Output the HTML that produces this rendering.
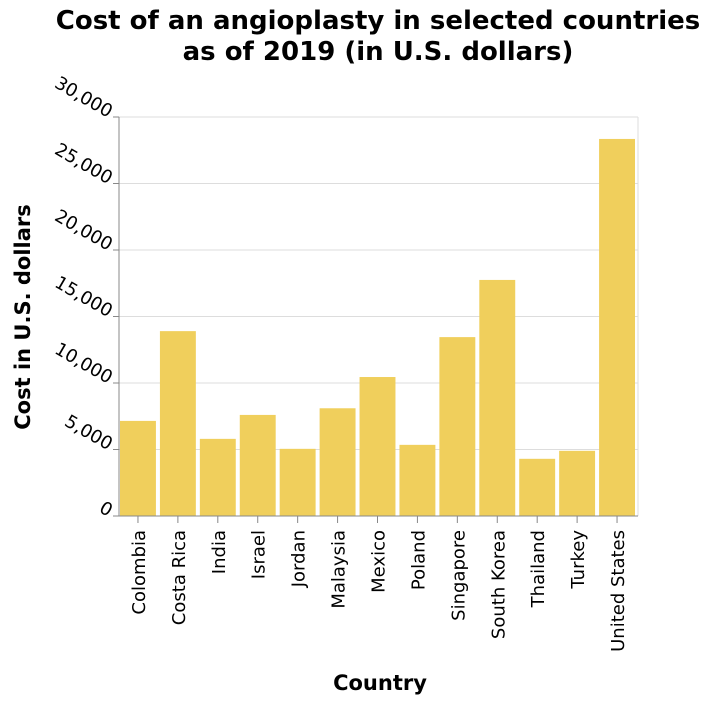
<!DOCTYPE html>
<html><head><meta charset="utf-8"><style>
body{margin:0;background:#fff;}
svg{display:block;font-family:"DejaVu Sans","Liberation Sans",sans-serif;}
</style></head><body>
<svg id="chart" width="712" height="702" xmlns="http://www.w3.org/2000/svg">
<text x="378" y="29" text-anchor="middle" font-size="26" font-weight="bold">Cost of an angioplasty in selected countries</text>
<text x="378" y="60" text-anchor="middle" font-size="26" font-weight="bold">as of 2019 (in U.S. dollars)</text>
<text transform="translate(30,317) rotate(-90)" text-anchor="middle" font-size="21" font-weight="bold">Cost in U.S. dollars</text>
<text x="380" y="690" text-anchor="middle" font-size="21" font-weight="bold">Country</text>
<g id="grid"></g><g id="bars"></g><g id="axes"></g>
</svg>
<script>
const categories=["Colombia","Costa Rica","India","Israel","Jordan","Malaysia","Mexico","Poland","Singapore","South Korea","Thailand","Turkey","United States"];
const values=[7150,13900,5800,7600,5050,8100,10450,5350,13450,17750,4300,4900,28350];
const yTicks=[0,5000,10000,15000,20000,25000,30000];
const yTickLabels=["0","5,000","10,000","15,000","20,000","25,000","30,000"];
const X0=119,X1=638,Y0=516,Y1=117,YMAX=30000;
const NS="http://www.w3.org/2000/svg";
const band=(X1-X0)/categories.length;
function y(v){return Y0-(v/YMAX)*(Y0-Y1);}
function x(i){return X0+i*band;}
function mk(t,a,p){const e=document.createElementNS(NS,t);for(const k in a)e.setAttribute(k,a[k]);p.appendChild(e);return e;}
const grid=document.getElementById('grid'),bars=document.getElementById('bars'),axes=document.getElementById('axes');
yTicks.forEach((v,i)=>{
  if(v>0){const g=mk('line',{x1:X0,x2:X1,y1:y(v),y2:y(v),stroke:'#ddd'},grid);
  
  }
  const t=mk('line',{x1:X0-6,x2:X0,y1:y(v),y2:y(v),stroke:'#888'},axes);
  
  
  const l=mk('text',{transform:`translate(${X0-11},${y(v)+1}) rotate(30)`,'text-anchor':'end','font-size':'18'},axes);
  l.textContent=yTickLabels[i];
  
  
});
mk('line',{x1:X1,x2:X1,y1:Y1,y2:Y0,stroke:'#ddd'},grid);
categories.forEach((c,i)=>{
  const r=mk('rect',{x:x(i)+1,y:y(values[i]),width:band-4,height:Y0-y(values[i]),fill:'#f0cf5c'},bars);
  
  
  const cx=x(i)+band/2-1;
  const t=mk('line',{x1:cx,x2:cx,y1:Y0,y2:Y0+7,stroke:'#888'},axes);
  
  
  const l=mk('text',{transform:`translate(${cx+7},${Y0+14}) rotate(-90)`,'text-anchor':'end','font-size':'18'},axes);
  l.textContent=c;
  
  
});
const ya=mk('line',{x1:X0,x2:X0,y1:Y1,y2:Y0,stroke:'#888'},axes);


const xa=mk('line',{x1:X0,x2:X1,y1:Y0,y2:Y0,stroke:'#888'},axes);


</script>
</body></html>
